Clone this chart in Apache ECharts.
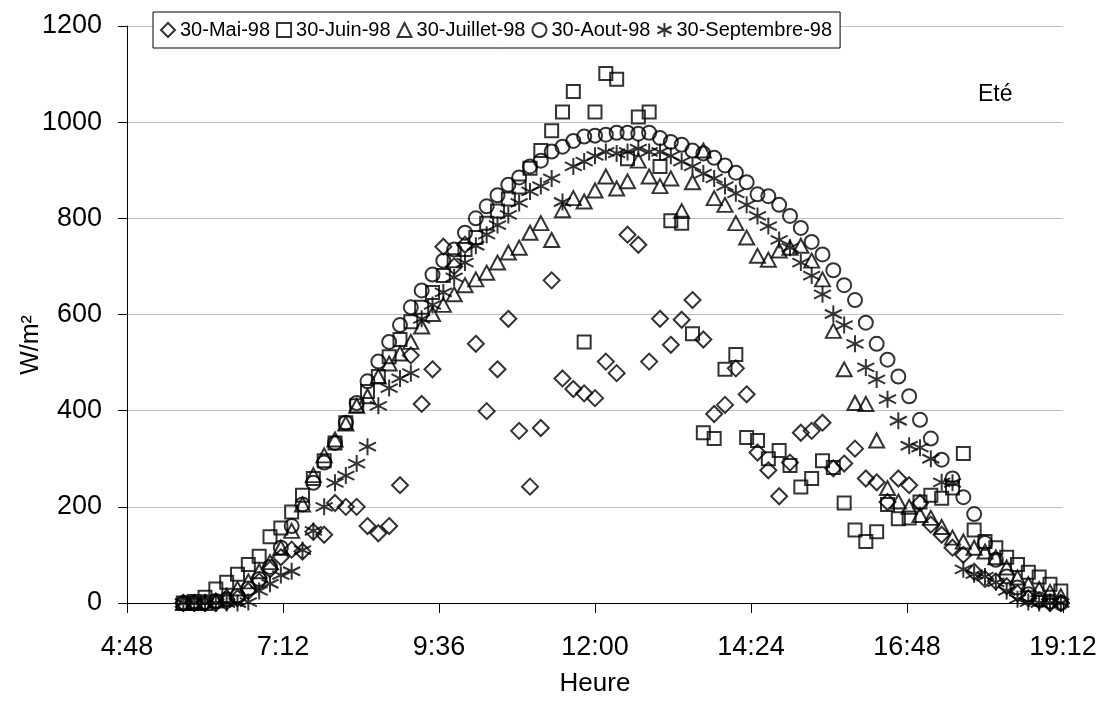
<!DOCTYPE html>
<html>
<head>
<meta charset="utf-8">
<script src="https://cdn.jsdelivr.net/npm/echarts@6/dist/echarts.min.js"></script>
<style>
  html, body { margin: 0; padding: 0; background: #fff; }
  #chart { width: 1101px; height: 702px; }
</style>
</head>
<body>
<div id="chart"></div>
<script>
// Measurement times (local clock), one reading every ten minutes
var times = [
  '5:40','5:50','6:00','6:10','6:20','6:30','6:40','6:50','7:00','7:10',
  '7:20','7:30','7:40','7:50','8:00','8:10','8:20','8:30','8:40','8:50',
  '9:00','9:10','9:20','9:30','9:40','9:50','10:00','10:10','10:20','10:30',
  '10:40','10:50','11:00','11:10','11:20','11:30','11:40','11:50','12:00','12:10',
  '12:20','12:30','12:40','12:50','13:00','13:10','13:20','13:30','13:40','13:50',
  '14:00','14:10','14:20','14:30','14:40','14:50','15:00','15:10','15:20','15:30',
  '15:40','15:50','16:00','16:10','16:20','16:30','16:40','16:50','17:00','17:10',
  '17:20','17:30','17:40','17:50','18:00','18:10','18:20','18:30','18:40','18:50',
  '19:00','19:10'
];

// Global irradiance, W/m²
var mai98 = [
  0,0,0,0,3,10,25,45,70,95,
  111,107,148,142,208,200,200,160,145,160,
  245,515,414,486,741,700,745,539,399,486,
  591,358,242,364,671,467,445,436,426,502,
  478,766,745,502,591,537,589,630,548,393,
  412,488,434,313,276,222,292,354,358,375,
  280,290,321,259,251,210,259,245,208,163,
  142,115,100,65,50,45,35,20,10,5,
  0,0
];
var juin98 = [
  0,3,12,29,43,60,80,97,138,156,
  189,224,259,296,333,375,410,440,471,512,
  548,585,615,646,681,712,735,760,790,815,
  840,865,904,941,982,1021,1064,543,1021,1101,
  1089,924,1011,1021,908,795,790,560,354,342,
  486,517,344,338,300,317,286,241,259,296,
  282,208,152,128,148,205,175,177,210,224,
  218,239,311,152,128,115,95,80,64,54,
  39,25
];
var juillet98 = [
  0,0,0,5,15,30,45,66,85,115,
  150,205,266,307,340,373,410,430,471,498,
  519,543,575,601,620,642,661,673,687,708,
  729,739,770,790,755,817,842,835,858,887,
  862,877,920,887,867,883,815,875,941,842,
  828,790,760,722,714,733,739,743,712,673,
  566,486,416,414,338,239,211,200,183,177,
  158,136,128,115,107,95,74,53,39,29,
  23,14
];
var aout98 = [
  0,0,2,4,8,15,30,50,75,115,
  160,205,250,292,333,375,416,461,502,543,
  578,615,650,683,712,735,770,800,825,848,
  870,885,908,920,939,949,961,970,972,974,
  978,978,976,978,967,959,953,941,935,926,
  910,895,875,850,846,828,805,780,751,725,
  692,661,630,583,539,506,471,430,381,342,
  298,259,220,185,125,90,55,32,18,8,
  3,0
];
var septembre98 = [
  0,0,0,0,0,0,2,25,40,58,
  66,110,150,200,250,265,290,325,410,447,
  467,478,591,620,646,677,708,743,766,786,
  807,832,856,867,883,834,908,918,930,938,
  935,938,945,938,938,930,918,908,893,883,
  867,852,828,805,784,755,739,708,681,642,
  601,578,539,490,465,424,379,327,323,300,
  251,250,70,60,55,43,25,8,2,0,
  0,0
];

// Axis ticks: 4:48 to 19:12 every 2h24
var xTickMin = 288, xTickMax = 1152, xTickStep = 144;
var yTickMin = 0, yTickMax = 1200, yTickStep = 200;

function toMinutes(s) {
  var p = s.split(':');
  return parseInt(p[0], 10) * 60 + parseInt(p[1], 10);
}
function toClock(m) {
  var h = Math.floor(m / 60), mm = Math.round(m - h * 60);
  return h + ':' + (mm < 10 ? '0' : '') + mm;
}
function pairs(values) {
  return values.map(function (v, i) { return [toMinutes(times[i]), v]; });
}

var FONT = 'Liberation Sans, Arial, sans-serif';
var asterisk = 'path://M7,0L7,14M0,3.5L14,10.5M0,10.5L14,3.5';

function markerSeries(name, values, symbol, size) {
  return {
    name: name,
    type: 'scatter',
    data: pairs(values),
    symbol: symbol,
    symbolSize: size,
    symbolKeepAspect: true,
    itemStyle: { color: 'rgba(0,0,0,0)', borderColor: '#000', borderWidth: 2 },
    emphasis: { disabled: true },
    animation: false
  };
}

var chart = echarts.init(document.getElementById('chart'), null, { renderer: 'canvas' });
chart.setOption({
  backgroundColor: '#fff',
  animation: false,
  textStyle: { fontFamily: FONT, color: '#000' },
  grid: { left: 127, right: 38, top: 26, bottom: 93, containLabel: false },
  legend: {
    left: 153, top: 12,
    padding: [8, 8, 8, 7],
    itemGap: 6,
    itemWidth: 14, itemHeight: 14,
    borderColor: '#000', borderWidth: 1,
    backgroundColor: '#fff',
    textStyle: { fontFamily: FONT, fontSize: 20, color: '#000' },
    data: ['30-Mai-98', '30-Juin-98', '30-Juillet-98', '30-Aout-98', '30-Septembre-98']
  },
  xAxis: {
    type: 'value',
    min: xTickMin, max: xTickMax, interval: xTickStep,
    name: 'Heure', nameLocation: 'middle', nameGap: 68,
    nameTextStyle: { fontFamily: FONT, fontSize: 26, color: '#000' },
    axisLine: { show: true, lineStyle: { color: '#000', width: 1 } },
    axisTick: { show: true, inside: false, length: 10, lineStyle: { color: '#000' } },
    axisLabel: { fontFamily: FONT, fontSize: 27, color: '#000', margin: 31, formatter: toClock },
    splitLine: { show: false }
  },
  yAxis: {
    type: 'value',
    min: yTickMin, max: yTickMax, interval: yTickStep,
    axisLine: { show: true, lineStyle: { color: '#000', width: 1 } },
    axisTick: { show: true, inside: false, length: 9, lineStyle: { color: '#000' } },
    axisLabel: { fontFamily: FONT, fontSize: 27, color: '#000', margin: 25,
                 formatter: function (v) { return String(v); } },
    splitLine: { show: true, lineStyle: { color: '#c0c0c0', width: 1 } }
  },
  graphic: [
    {
      type: 'text', left: 978, top: 83,
      style: { text: 'Eté', fill: '#000', font: '23px ' + FONT }
    },
    {
      type: 'text', x: 31, y: 345, rotation: Math.PI / 2,
      style: { text: 'W/m²', fill: '#000', font: '25px ' + FONT,
               textAlign: 'center', textVerticalAlign: 'middle' }
    }
  ],
  series: [
    markerSeries('30-Mai-98', mai98, 'diamond', [16, 16]),
    markerSeries('30-Juin-98', juin98, 'rect', [13, 13]),
    markerSeries('30-Juillet-98', juillet98, 'triangle', [15, 14]),
    markerSeries('30-Aout-98', aout98, 'circle', [14, 14]),
    markerSeries('30-Septembre-98', septembre98, asterisk, [17, 17])
  ]
});
</script>
</body>
</html>
